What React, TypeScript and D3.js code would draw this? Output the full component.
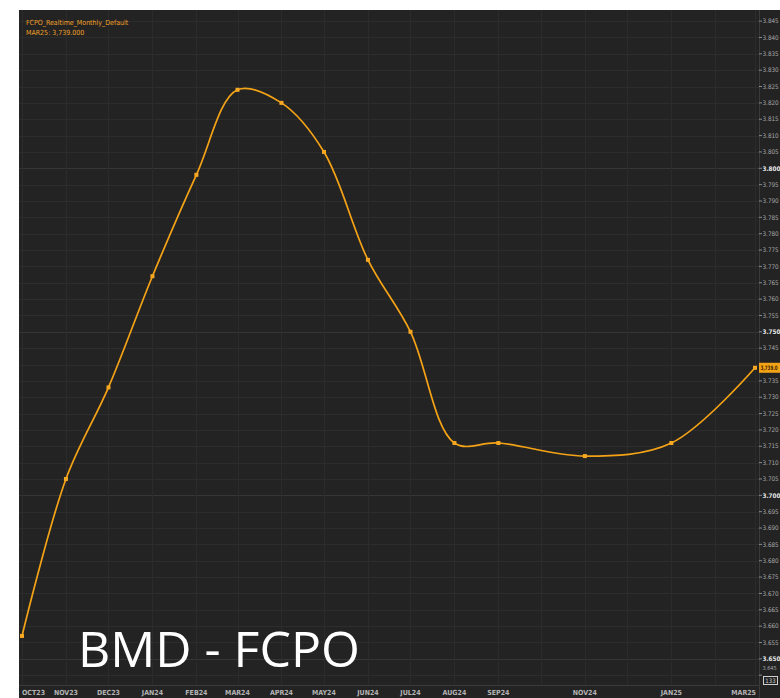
import React from "react";
import * as d3 from "d3";

// contract months on the x axis
const months = [
  "2023-10-01", "2023-11-01", "2023-12-01", "2024-01-01", "2024-02-01",
  "2024-03-01", "2024-04-01", "2024-05-01", "2024-06-01", "2024-07-01",
  "2024-08-01", "2024-09-01", "2024-11-01", "2025-01-01", "2025-03-01",
];
const monthLabels = [
  "OCT23", "NOV23", "DEC23", "JAN24", "FEB24", "MAR24", "APR24", "MAY24",
  "JUN24", "JUL24", "AUG24", "SEP24", "NOV24", "JAN25", "MAR25",
];
// settlement values
const prices = [
  3.657, 3.705, 3.733, 3.767, 3.798, 3.824, 3.820, 3.805,
  3.772, 3.750, 3.716, 3.716, 3.712, 3.716, 3.739,
];
const majorTicks = [3.65, 3.7, 3.75, 3.8];

const W = 780;
const H = 698;
const left = 19;
const top = 10;
const plotRight = 759;
const plotBottom = 685;

export default function App() {
  const dates = months.map(m => new Date(m));
  const x = d3
    .scaleTime()
    .domain([dates[0], dates[dates.length - 1]])
    .range([22, 755]);
  const y = d3.scaleLinear().domain([3.642, 3.8484]).range([plotBottom, top]);

  const yTicks = d3.range(0, 41).map(i => +(3.645 + i * 0.005).toFixed(3));
  const gridMonths = d3.timeMonth.range(new Date("2023-10-01"), new Date("2025-04-01"));

  const pts = dates.map((d, i) => [x(d), y(prices[i])] as [number, number]);
  const line = d3.line().curve(d3.curveCatmullRom.alpha(0.5))(pts) || "";

  const last = pts[pts.length - 1];
  const axisFont = "'DejaVu Sans Condensed', 'Liberation Sans Narrow', sans-serif";

  return (
    <svg
      width={W}
      height={H}
      style={{ position: "absolute", left: 0, top: 0, background: "#ffffff" }}
    >
      <defs>
        <clipPath id="plot">
          <rect x={left} y={top} width={plotRight - left} height={plotBottom - top} />
        </clipPath>
      </defs>
      <rect x={left} y={top} width={W - left} height={H - top} fill="#232323" />

      {/* gridlines */}
      <g clipPath="url(#plot)">
        {yTicks.map(t => (
          <line
            key={"h" + t}
            x1={left}
            x2={plotRight}
            y1={Math.round(y(t)) + 0.5}
            y2={Math.round(y(t)) + 0.5}
            stroke={majorTicks.includes(t) ? "#363636" : "#2d2d2d"}
            strokeWidth={1}
          />
        ))}
        {gridMonths.map(m => (
          <line
            key={"v" + m.getTime()}
            x1={Math.round(x(m)) + 0.5}
            x2={Math.round(x(m)) + 0.5}
            y1={top}
            y2={plotBottom}
            stroke="#2b2b2b"
            strokeWidth={1}
          />
        ))}
      </g>

      {/* axes frames */}
      <line x1={plotRight + 0.5} x2={plotRight + 0.5} y1={top} y2={H} stroke="#3a3a3a" />
      <line x1={left} x2={plotRight} y1={plotBottom + 0.5} y2={plotBottom + 0.5} stroke="#3a3a3a" />

      {/* right axis */}
      {yTicks.map(t => {
        const major = majorTicks.includes(t);
        const ty = y(t);
        // the last-value tag hides the tick label beneath it
        const hidden = Math.abs(ty - last[1]) < 6;
        const isBottom = t === 3.645;
        return (
          <g key={"t" + t} transform={`translate(${plotRight},${ty})`}>
            <line x1={0} x2={3} stroke="#8a8a8a" />
            {!hidden && (
              <text
                x={3.5}
                y={isBottom ? -7 : 0}
                dy="0.35em"
                fontFamily={axisFont}
                fontSize={isBottom ? 5.5 : 6.3}
                fontWeight={major ? 700 : 400}
                fill={major ? "#e6e6e6" : "#a8a8a8"}
              >
                {t.toFixed(3)}
              </text>
            )}
          </g>
        );
      })}

      {/* bottom axis labels */}
      {dates.map((d, i) => {
        let cx = x(d);
        let anchor: "middle" | "start" | "end" = "middle";
        if (i === 0) {
          cx = 22;
          anchor = "start";
        } else if (i === dates.length - 1) {
          cx = 756;
          anchor = "end";
        }
        return (
          <text
            key={"x" + i}
            x={cx}
            y={693}
            textAnchor={anchor}
            dominantBaseline="middle"
            fontFamily={axisFont}
            fontSize={7}
            fontWeight={700}
            fill="#b4b4b4"
          >
            {monthLabels[i]}
          </text>
        );
      })}

      {/* series */}
      <g clipPath="url(#plot)">
        <path d={line} fill="none" stroke="#f5a316" strokeWidth={1.7} />
        {pts.map((p, i) => (
          <rect
            key={"p" + i}
            x={p[0] - 2}
            y={p[1] - 2}
            width={4}
            height={4}
            fill="#f7a823"
          />
        ))}
      </g>

      {/* last value tag */}
      <rect x={plotRight} y={last[1] - 5} width={W - plotRight} height={10} fill="#f5a316" />
      <text
        x={plotRight + 1.5}
        y={last[1]}
        dy="0.35em"
        fontFamily={axisFont}
        fontSize={6}
        fontWeight={700}
        fill="#3a2400"
        textLength={17}
        lengthAdjust="spacingAndGlyphs"
      >
        3,739.0
      </text>

      {/* bottom-right counter box */}
      <rect x={763.5} y={676.5} width={14} height={8} fill="none" stroke="#cfcfcf" strokeWidth={1} />
      <text x={770.5} y={681} dy="0.35em" textAnchor="middle" fontFamily={axisFont} fontSize={6} fill="#cfcfcf">
        133
      </text>

      {/* legend */}
      <text x={26} y={25} fontFamily={axisFont} fontSize={7} fill="#f0a028">
        FCPO_Realtime_Monthly_Default
      </text>
      <text x={26} y={35} fontFamily={axisFont} fontSize={7} fill="#f0a028">
        MAR25: 3,739.000
      </text>

      {/* title */}
      <text
        x={78}
        y={667}
        fontFamily="'Open Sans', sans-serif"
        fontSize={50}
        fill="#ffffff"
      >
        BMD - FCPO
      </text>
    </svg>
  );
}
